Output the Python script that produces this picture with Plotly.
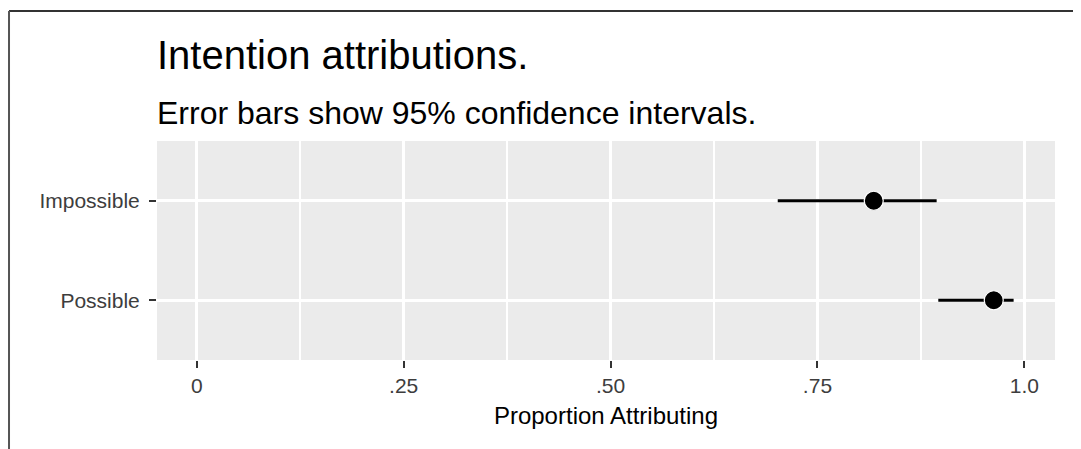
import plotly.graph_objects as go

categories = ["Possible", "Impossible"]
proportions = [0.963, 0.818]
ci_lower = [0.896, 0.702]
ci_upper = [0.987, 0.894]
x_tick_vals = [0, 0.25, 0.5, 0.75, 1.0]
x_tick_text = ["0", ".25", ".50", ".75", "1.0"]
x_minor_vals = [0.125, 0.375, 0.625, 0.875]
reference_line = 0.5

title_text = "Intention attributions."
subtitle_text = "Error bars show 95% confidence intervals."
x_title = "Proportion Attributing"

err_plus = [u - p for u, p in zip(ci_upper, proportions)]
err_minus = [p - l for p, l in zip(proportions, ci_lower)]

FONT = "Liberation Sans, Arial, Helvetica, sans-serif"

fig = go.Figure()
fig.add_trace(go.Scatter(
    x=proportions, y=categories, mode="markers",
    marker=dict(size=19, color="black", line=dict(color="white", width=1.2)),
    error_x=dict(type="data", symmetric=False, array=err_plus, arrayminus=err_minus,
                 color="black", thickness=3, width=0),
    showlegend=False, hoverinfo="skip",
))

fig.add_shape(type="line", xref="x", yref="paper", x0=reference_line, x1=reference_line,
              y0=0, y1=1, line=dict(color="#BDBDBD", width=2), layer="between")

# outer frame (top and left borders)
fig.add_shape(type="line", xref="paper", yref="paper", x0=-0.1648, x1=1.03,
              y0=1.5936, y1=1.5936, line=dict(color="#333333", width=2))
fig.add_shape(type="line", xref="paper", yref="paper", x0=-0.1648, x1=-0.1648,
              y0=1.5936, y1=-0.42, line=dict(color="#555555", width=2))

fig.add_annotation(text=title_text, xref="paper", yref="paper", x=-0.002, y=1.285,
                   xanchor="left", yanchor="bottom", showarrow=False,
                   font=dict(family=FONT, size=40, color="black"))
fig.add_annotation(text=subtitle_text, xref="paper", yref="paper", x=-0.002, y=1.035,
                   xanchor="left", yanchor="bottom", showarrow=False,
                   font=dict(family=FONT, size=32, color="black"))

fig.update_layout(
    width=1073, height=441,
    margin=dict(l=149, r=26, t=133, b=89),
    paper_bgcolor="white", plot_bgcolor="#EBEBEB",
    font=dict(family=FONT),
)
fig.update_xaxes(
    range=[-0.048, 1.037], tickvals=x_tick_vals, ticktext=x_tick_text,
    showgrid=True, gridcolor="white", gridwidth=2.5, zeroline=False,
    minor=dict(tickvals=x_minor_vals, showgrid=True, gridcolor="white", gridwidth=1.5, ticks=""),
    ticks="outside", ticklen=7, tickwidth=2, tickcolor="#333333",
    tickfont=dict(family=FONT, size=21, color="#3D3D3D"),
    title=dict(text=x_title, font=dict(family=FONT, size=24, color="black"), standoff=10),
    showline=False, fixedrange=True,
)
fig.update_yaxes(
    type="category", categoryorder="array", categoryarray=categories,
    range=[-0.6, 1.6],
    showgrid=True, gridcolor="white", gridwidth=2.5, zeroline=False,
    ticks="outside", ticklen=7, tickwidth=2, tickcolor="#333333",
    tickfont=dict(family=FONT, size=21, color="#3D3D3D"), ticklabelstandoff=5,
    showline=False, fixedrange=True,
)

fig.write_html("out.html")
